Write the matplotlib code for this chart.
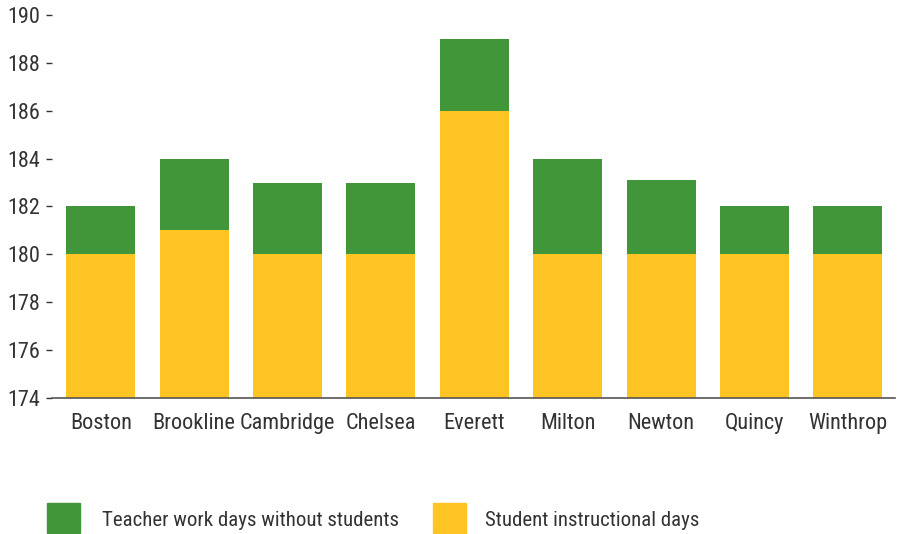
import numpy as np
import matplotlib.pyplot as plt
from matplotlib.patches import Rectangle

# ---- data ----
districts = ["Boston", "Brookline", "Cambridge", "Chelsea", "Everett",
             "Milton", "Newton", "Quincy", "Winthrop"]
student_days = [180, 181, 180, 180, 186, 180, 180, 180, 180]
total_days = [182, 184, 183, 183, 189, 184, 183.1, 182, 182]
teacher_days = [t - s for t, s in zip(total_days, student_days)]

green = "#41963a"
yellow = "#fec423"
txt = "#333333"

plt.rcParams["font.family"] = ["Roboto Condensed", "DejaVu Sans"]

fig = plt.figure(figsize=(9, 5.34), dpi=100)
ax = fig.add_axes([0.058, 0.2547, 0.936, 0.7173])

x = np.arange(len(districts))
base = 174
ax.bar(x, np.array(student_days) - base, bottom=base, width=0.74,
       color=yellow, linewidth=0)
ax.bar(x, teacher_days, bottom=student_days, width=0.74,
       color=green, linewidth=0)

ax.set_ylim(174, 190)
ax.set_xlim(-0.52, 8.5)
ax.set_yticks(range(174, 191, 2))
ax.set_xticks(x)
ax.set_xticklabels(districts)

for s in ["top", "right", "left"]:
    ax.spines[s].set_visible(False)
ax.spines["bottom"].set_color("#555555")
ax.spines["bottom"].set_linewidth(1.2)

ax.tick_params(axis="y", length=4, width=1, color=txt, pad=5,
               labelsize=16, labelcolor=txt)
ax.tick_params(axis="x", length=0, pad=11, labelsize=16, labelcolor=txt)

# legend drawn by hand in figure coords
fig.patches.append(Rectangle((47 / 900, 1 - 533 / 534), 33 / 900, 30 / 534,
                             transform=fig.transFigure, color=green))
fig.text(102 / 900, 1 - 520 / 534, "Teacher work days without students",
         fontsize=15, color=txt, va="center")
fig.patches.append(Rectangle((433 / 900, 1 - 533 / 534), 33 / 900, 30 / 534,
                             transform=fig.transFigure, color=yellow))
fig.text(485 / 900, 1 - 520 / 534, "Student instructional days",
         fontsize=15, color=txt, va="center")

fig.savefig("out.png", dpi=100)
